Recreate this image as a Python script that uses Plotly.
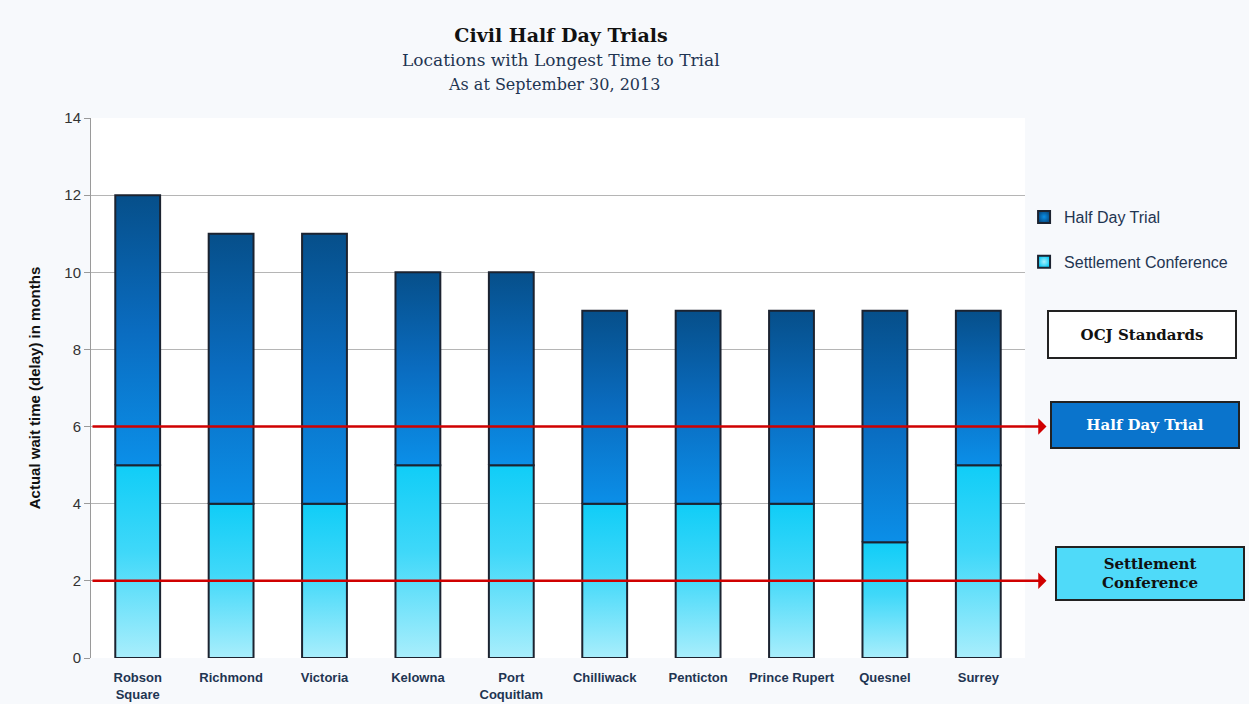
import plotly.graph_objects as go

locations = ["Robson<br>Square", "Richmond", "Victoria", "Kelowna", "Port<br>Coquitlam",
             "Chilliwack", "Penticton", "Prince Rupert", "Quesnel", "Surrey"]
settlement = [5, 4, 4, 5, 5, 4, 4, 4, 3, 5]
half_day = [7, 7, 7, 5, 5, 5, 5, 5, 6, 4]
standard_names = ["Half Day Trial", "Settlement<br>Conference"]
standard_values = [6, 2]

half_w = 0.24  # half bar width, in category units
series = [
    ("Settlement Conference", settlement, [[0, "#a9eefc"], [0.55, "#3fd8f9"], [1, "#10cdf7"]], "#10cdf7", "#a9eefc", 2),
    ("Half Day Trial", half_day, [[0, "#0b8fe8"], [0.5, "#0a6cc0"], [1, "#064f8a"]], "#064f8a", "#0b8fe8", 1),
]

# pixel -> paper helpers (plot area is 91..1025 x 118..658)
def px(x):
    return (x - 91) / 934

def py(y):
    return (658 - y) / 540

fig = go.Figure()
base = [0] * len(locations)
for name, vals, scale, dark, light, rank in series:
    for i, v in enumerate(vals):
        b, t = base[i], base[i] + v
        fig.add_trace(go.Scatter(
            x=[i - half_w, i + half_w, i + half_w, i - half_w, i - half_w],
            y=[b, b, t, t, b],
            mode="lines", fill="toself",
            fillgradient={"type": "vertical", "colorscale": scale},
            line={"color": "#1c2330", "width": 2},
            name=name, showlegend=False,
            hoverinfo="text", text=f"{locations[i]}: {v}",
        ))
    base = [b + v for b, v in zip(base, vals)]
    # legend swatch
    fig.add_trace(go.Scatter(
        x=[None], y=[None], mode="markers", name=name, legendrank=rank, legendgroup=name,
        marker={"symbol": "square", "size": 12, "color": dark,
                "gradient": {"type": "radial", "color": light},
                "line": {"color": "#1c2330", "width": 1.5}},
    ))

# standards lines with arrows running out to the labels on the right
box_style = [
    {"bg": "#0a74cc", "font": "white", "x": 1145, "y": 425, "h": 42},
    {"bg": "#4fdaf9", "font": "#111111", "x": 1150, "y": 573, "h": 49},
]
for name, val, st in zip(standard_names, standard_values, box_style):
    fig.add_annotation(
        x=9.73, y=val, ax=-0.5, ay=val, xref="x", yref="y", axref="x", ayref="y",
        showarrow=True, arrowhead=1, arrowsize=1.1, arrowwidth=2.5, arrowcolor="#d00000", text="",
    )
    fig.add_annotation(
        x=px(st["x"]), y=py(st["y"]), xref="paper", yref="paper",
        xanchor="center", yanchor="middle",
        text="<b>" + name + "</b>", showarrow=False,
        font={"family": "DejaVu Serif", "size": 15, "color": st["font"]},
        bgcolor=st["bg"], bordercolor="#222222", borderwidth=2, borderpad=1,
        width=184, height=st["h"],
    )

fig.add_annotation(
    x=px(1142), y=py(334), xref="paper", yref="paper",
    xanchor="center", yanchor="middle",
    text="<b>OCJ Standards</b>", showarrow=False,
    font={"family": "DejaVu Serif", "size": 15, "color": "#111111"},
    bgcolor="white", bordercolor="#222222", borderwidth=2, borderpad=1, width=184, height=43,
)

# title lines
fig.add_annotation(x=px(561), y=py(60), xref="paper", yref="paper", yanchor="middle",
                   text="Locations with Longest Time to Trial", showarrow=False,
                   font={"family": "DejaVu Serif", "size": 17, "color": "#1f3552"})
fig.add_annotation(x=px(554), y=py(84), xref="paper", yref="paper", yanchor="middle",
                   text="As at September 30, 2013", showarrow=False,
                   font={"family": "DejaVu Serif", "size": 16, "color": "#1f3552"})

fig.update_layout(
    width=1249, height=704,
    paper_bgcolor="#f7f9fc", plot_bgcolor="white",
    margin={"l": 91, "r": 224, "t": 118, "b": 46},
    title={
        "text": "<b>Civil Half Day Trials</b>",
        "x": 561 / 1249, "xanchor": "center", "y": 1 - 35 / 704, "yanchor": "middle",
        "font": {"family": "DejaVu Serif", "size": 19, "color": "#111111"},
    },
    legend={
        "x": 0.999, "y": py(200), "xanchor": "left", "yanchor": "top",
        "traceorder": "grouped", "tracegroupgap": 21, "itemsizing": "constant",
        "font": {"family": "Liberation Sans", "size": 16, "color": "#1f3552"},
        "bgcolor": "rgba(0,0,0,0)",
    },
    xaxis={
        "range": [-0.5, len(locations) - 0.5], "automargin": False,
        "tickmode": "array", "tickvals": list(range(len(locations))), "ticktext": locations,
        "tickfont": {"family": "Liberation Sans Narrow, Liberation Sans", "size": 13,
                     "color": "#1f3552", "weight": "bold"},
        "showline": False, "ticks": "", "showgrid": False, "zeroline": False,
        "ticklabelstandoff": 10,
    },
    yaxis={
        "range": [0, 14], "dtick": 2, "automargin": False,
        "gridcolor": "#b5b5b5", "gridwidth": 1, "zeroline": False,
        "showline": True, "linecolor": "#9a9a9a", "ticks": "outside", "ticklen": 6, "tickcolor": "#9a9a9a",
        "tickfont": {"family": "Liberation Sans", "size": 15, "color": "#333333"},
        "title": {"text": "<b>Actual wait time (delay) in months</b>",
                  "font": {"family": "Liberation Sans", "size": 15, "color": "#111111"}, "standoff": 20},
    },
)

fig.write_html("out.html", config={"displayModeBar": False},
               post_script="document.body.style.margin='0';")
